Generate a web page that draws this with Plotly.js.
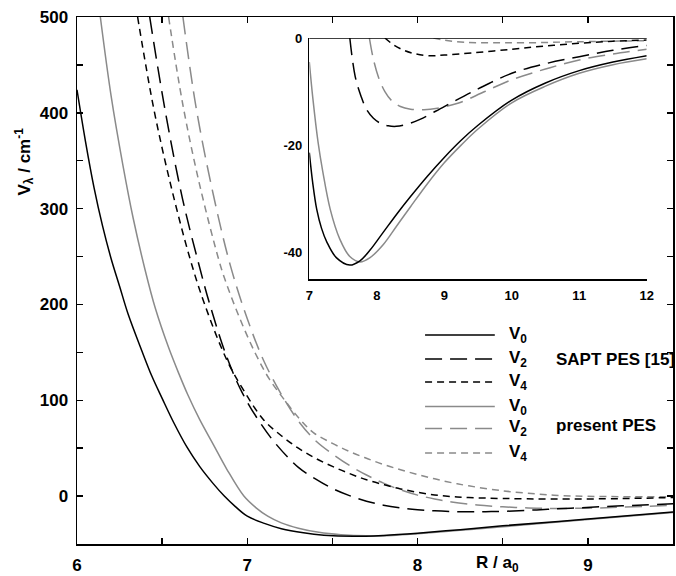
<!DOCTYPE html>
<html>
<head>
<meta charset="utf-8">
<script src="https://cdn.plot.ly/plotly-3.0.1.min.js"></script>
<style>html,body{margin:0;padding:0;background:#fff;}#plot{width:676px;height:576px;}</style>
</head>
<body>
<div id="plot"></div>
<script>
// ---- main panel data (R / a0, V / cm^-1) ----
const R_sapt_v0 = [6.0, 6.05, 6.1, 6.15, 6.2, 6.25, 6.3, 6.38, 6.44, 6.5, 6.57, 6.646, 6.72, 6.8, 6.865, 6.93, 7.0, 7.1, 7.2, 7.33, 7.45, 7.62, 7.8, 8.0, 8.25, 8.5, 9.0, 9.5];
const V_sapt_v0 = [424, 370, 322, 282, 248, 219, 190, 152, 125, 102, 76, 51, 31, 13, 0, -11, -21, -28.5, -34, -38.3, -40.8, -42, -41, -38.7, -35, -31, -24, -16.5];
const R_sapt_v2 = [6.427, 6.52, 6.62, 6.708, 6.78, 6.88, 6.97, 7.07, 7.17, 7.3, 7.4, 7.5, 7.6, 7.7, 7.8, 7.9, 8.0, 8.1, 8.2, 8.3, 8.4, 8.5, 8.7, 8.9, 9.2, 9.5];
const V_sapt_v2 = [500, 400, 310, 247, 200, 145, 108, 78, 54, 30, 18, 8, 0.5, -5.3, -9.5, -12.3, -14.2, -15.4, -16.1, -16.4, -16.3, -15.9, -14.4, -12.6, -10.2, -8.0];
const R_sapt_v4 = [6.356, 6.45, 6.55, 6.665, 6.75, 6.88, 6.98, 7.094, 7.2, 7.3, 7.4, 7.5, 7.6, 7.7, 7.8, 7.9, 8.0, 8.1, 8.2, 8.3, 8.5, 8.8, 9.2, 9.5];
const V_sapt_v4 = [500, 405, 325, 247, 200, 142, 110, 80, 63, 50, 39.5, 31, 23.5, 17, 12, 7.5, 4, 1.2, -0.5, -1.5, -2.5, -3.1, -2.6, -1.5];
const R_pres_v0 = [6.137, 6.2, 6.27, 6.33, 6.4, 6.46, 6.538, 6.6, 6.65, 6.72, 6.8, 6.88, 6.98, 7.05, 7.12, 7.2, 7.3, 7.42, 7.55, 7.7, 7.85, 8.0, 8.25, 8.5, 9.0, 9.5];
const V_pres_v0 = [500, 418, 345, 290, 236, 196, 155, 127, 106, 80, 54, 28, 0, -12, -21, -28, -33.5, -37.8, -40.3, -41.5, -41, -39.3, -35.7, -32, -24.5, -17];
const R_pres_v2 = [6.622, 6.7, 6.8, 6.9, 7.0, 7.1, 7.22, 7.31, 7.4, 7.5, 7.6, 7.7, 7.8, 7.9, 8.0, 8.1, 8.2, 8.35, 8.5, 8.65, 8.8, 9.0, 9.2, 9.5];
const V_pres_v2 = [500, 405, 315, 241, 185, 140, 100, 76, 58, 44, 32, 22, 13.5, 6.5, 1, -3, -6.2, -9.3, -11.2, -12.4, -12.9, -12.6, -11.6, -9.6];
const R_pres_v4 = [6.538, 6.62, 6.72, 6.832, 6.869, 6.95, 7.05, 7.13, 7.22, 7.31, 7.39, 7.5, 7.6, 7.7, 7.8, 7.9, 8.0, 8.1, 8.2, 8.3, 8.5, 8.7, 8.85, 9.0, 9.2, 9.5];
const V_pres_v4 = [500, 410, 325, 247, 226, 188, 148, 122, 100, 80, 66, 55, 46.5, 39.5, 33, 27.5, 22.5, 18, 14, 10.7, 5.5, 2.2, 0.5, -0.2, -0.6, -0.7];

// ---- inset data ----
const iR_sapt_v0 = [7.0, 7.05, 7.11, 7.18, 7.26, 7.4, 7.6, 7.75, 7.9, 8.1, 8.3, 8.5, 8.75, 9.0, 9.25, 9.5, 10, 10.5, 11, 11.5, 12];
const iV_sapt_v0 = [-21.4, -27, -32, -35.5, -38.1, -41, -42.4, -41.6, -39.6, -36.2, -32.8, -29.6, -25.8, -22.3, -19.1, -16.3, -11.6, -8.4, -6.1, -4.5, -3.3];
const iR_pres_v0 = [7.0, 7.05, 7.13, 7.2, 7.31, 7.45, 7.6, 7.75, 7.9, 8.1, 8.3, 8.5, 8.75, 9.0, 9.25, 9.5, 10, 10.5, 11, 11.5, 12];
const iV_pres_v0 = [-4.5, -11, -19.5, -25, -32, -37.5, -40.8, -41.8, -41, -38.5, -35, -31.5, -27.2, -23.3, -20, -17, -12.1, -9, -6.6, -5, -3.9];
const iR_sapt_v2 = [7.6, 7.68, 7.77, 7.85, 7.95, 8.05, 8.17, 8.29, 8.45, 8.64, 9.0, 9.5, 10, 10.5, 11, 11.5, 12];
const iV_sapt_v2 = [0, -7.2, -11, -13.4, -15, -15.9, -16.4, -16.5, -16.1, -15.2, -12.8, -9.5, -6.6, -4.8, -3.5, -2.3, -1.4];
const iR_pres_v2 = [7.89, 7.95, 8.03, 8.12, 8.22, 8.35, 8.5, 8.7, 8.9, 9.2, 9.6, 10, 10.5, 11, 11.5, 12];
const iV_pres_v2 = [0, -4, -7.5, -10, -11.7, -12.8, -13.3, -13.4, -13.1, -12.2, -10, -7.8, -5.8, -4.1, -3, -2.1];
const iR_sapt_v4 = [8.12, 8.25, 8.4, 8.55, 8.75, 9.0, 9.4, 10, 10.5, 11, 11.5, 12];
const iV_sapt_v4 = [0, -1.3, -2.3, -2.9, -3.3, -3.2, -2.8, -2.1, -1.5, -1.0, -0.6, -0.4];
const iR_pres_v4 = [8.84, 9.0, 9.3, 9.7, 10.2, 11, 12];
const iV_pres_v4 = [0, -0.4, -0.8, -0.9, -0.9, -0.7, -0.5];

// ---- labels / ticks ----
const legendLabels = ['V<sub>0</sub>', 'V<sub>2</sub>', 'V<sub>4</sub>', 'V<sub>0</sub>', 'V<sub>2</sub>', 'V<sub>4</sub>'];
const groupLabels = ['SAPT PES [15]', 'present PES'];
const xMainTicks = [6, 7, 8, 9];
const xMainMinor = [6.5, 7.5, 8.5, 9.5];
const yMainTicks = [0, 100, 200, 300, 400, 500];
const yMainMinor = [-50, 50, 150, 250, 350, 450];
const xInsetTicks = [7, 8, 9, 10, 11, 12];
const yInsetTicks = [0, -20, -40];
const xTitle = 'R / a<sub>0</sub>';
const yTitle = 'V<sub>λ</sub> / cm<sup>-1</sup>';

const BLACK = '#000000';
const GRAY = '#8a8a8a';
const LONG = '17px,8px';
const SHORT = '7px,5px';
const W = 1.5;

function tr(x, y, color, dash, xa, ya) {
  return {x: x, y: y, type: 'scatter', mode: 'lines', xaxis: xa, yaxis: ya,
    line: {color: color, width: W, dash: dash, shape: 'spline', smoothing: 1.0},
    showlegend: false, hoverinfo: 'skip'};
}

const traces = [
  tr(R_pres_v0, V_pres_v0, GRAY, 'solid', 'x', 'y'),
  tr(R_pres_v2, V_pres_v2, GRAY, LONG, 'x', 'y'),
  tr(R_pres_v4, V_pres_v4, GRAY, SHORT, 'x', 'y'),
  tr(R_sapt_v0, V_sapt_v0, BLACK, 'solid', 'x', 'y'),
  tr(R_sapt_v2, V_sapt_v2, BLACK, LONG, 'x', 'y'),
  tr(R_sapt_v4, V_sapt_v4, BLACK, SHORT, 'x', 'y'),
  tr(iR_pres_v0, iV_pres_v0, GRAY, 'solid', 'x2', 'y2'),
  tr(iR_pres_v2, iV_pres_v2, GRAY, LONG, 'x2', 'y2'),
  tr(iR_pres_v4, iV_pres_v4, GRAY, SHORT, 'x2', 'y2'),
  tr(iR_sapt_v0, iV_sapt_v0, BLACK, 'solid', 'x2', 'y2'),
  tr(iR_sapt_v2, iV_sapt_v2, BLACK, LONG, 'x2', 'y2'),
  tr(iR_sapt_v4, iV_sapt_v4, BLACK, SHORT, 'x2', 'y2')
];

const FONT = 'Arial, Liberation Sans, sans-serif';
const tickFont = {family: FONT, size: 17, color: '#000', weight: 700};
const inTickFont = {family: FONT, size: 13, color: '#000', weight: 700};
const txtFont = {family: FONT, size: 17, color: '#000', weight: 700};

// legend geometry (paper coords)
const legX0 = 0.584, legX1 = 0.701, legTextX = 0.722, grpX = 0.800;
const legY = [0.3966, 0.3510, 0.3074, 0.2609, 0.2192, 0.1727];
const legColors = [BLACK, BLACK, BLACK, GRAY, GRAY, GRAY];
const legDash = ['solid', LONG, SHORT, 'solid', LONG, SHORT];

const shapes = [];
const annotations = [];
for (let i = 0; i < 6; i++) {
  shapes.push({type: 'line', xref: 'paper', yref: 'paper', x0: legX0, x1: legX1, y0: legY[i], y1: legY[i],
    line: {color: legColors[i], width: W, dash: legDash[i]}});
  annotations.push({xref: 'paper', yref: 'paper', x: legTextX, y: legY[i], xanchor: 'left', yanchor: 'middle',
    text: legendLabels[i], showarrow: false, font: txtFont});
}
annotations.push({xref: 'paper', yref: 'paper', x: grpX, y: legY[1], xanchor: 'left', yanchor: 'middle',
  text: groupLabels[0], showarrow: false, font: txtFont});
annotations.push({xref: 'paper', yref: 'paper', x: grpX, y: legY[4] + 0.005, xanchor: 'left', yanchor: 'middle',
  text: groupLabels[1], showarrow: false, font: txtFont});
annotations.push({xref: 'paper', yref: 'paper', x: -0.088, y: 0.725, xanchor: 'center', yanchor: 'middle',
  text: yTitle, textangle: -90, showarrow: false, font: txtFont});
annotations.push({xref: 'paper', yref: 'paper', x: 0.705, y: -0.038, xanchor: 'center', yanchor: 'middle',
  text: xTitle, showarrow: false, font: txtFont});
// inset top frame line
shapes.push({type: 'line', xref: 'x2 domain', yref: 'y2', x0: 0, x1: 1, y0: 0, y1: 0, line: {color: '#000', width: 1.5}});

const minorStyle = {ticks: 'inside', ticklen: 6, tickwidth: 1.5, tickcolor: '#000', showgrid: false};

const layout = {
  width: 676, height: 576,
  margin: {l: 77, r: 3, t: 17, b: 32},
  paper_bgcolor: '#fff', plot_bgcolor: '#fff',
  showlegend: false,
  xaxis: {range: [6, 9.5], domain: [0, 1], tickmode: 'array', tickvals: xMainTicks, ticktext: xMainTicks.map(String),
    minor: Object.assign({tickmode: 'array', tickvals: xMainMinor}, minorStyle),
    ticks: 'inside', ticklen: 6, tickwidth: 1.5, tickcolor: '#000', mirror: 'ticks', showline: true,
    linecolor: '#000', linewidth: 1.5, showgrid: false, zeroline: false, tickfont: tickFont, ticklabelstandoff: 5},
  yaxis: {range: [-50, 500], domain: [0, 1], tickmode: 'array', tickvals: yMainTicks, ticktext: yMainTicks.map(String),
    minor: Object.assign({tickmode: 'array', tickvals: yMainMinor}, minorStyle),
    ticks: 'inside', ticklen: 6, tickwidth: 1.5, tickcolor: '#000', mirror: 'ticks', showline: true,
    linecolor: '#000', linewidth: 1.5, showgrid: false, zeroline: false, tickfont: tickFont, ticklabelstandoff: 4},
  xaxis2: {anchor: 'y2', domain: [0.3898, 0.9559], range: [7, 12], tickmode: 'array', tickvals: xInsetTicks,
    ticktext: xInsetTicks.map(String),
    ticks: '', showline: true, linecolor: '#000', linewidth: 1.5, showgrid: false, zeroline: false,
    tickfont: inTickFont, ticklabelstandoff: 4},
  yaxis2: {anchor: 'x2', domain: [0.5028, 0.9602], range: [-45, 0], tickmode: 'array', tickvals: yInsetTicks,
    ticktext: yInsetTicks.map(String),
    ticks: '', showline: true, linecolor: '#000', linewidth: 1.5, showgrid: false, zeroline: false,
    tickfont: inTickFont, ticklabelstandoff: 3},
  shapes: shapes,
  annotations: annotations
};

Plotly.newPlot('plot', traces, layout, {staticPlot: true, displayModeBar: false});
</script>
</body>
</html>
